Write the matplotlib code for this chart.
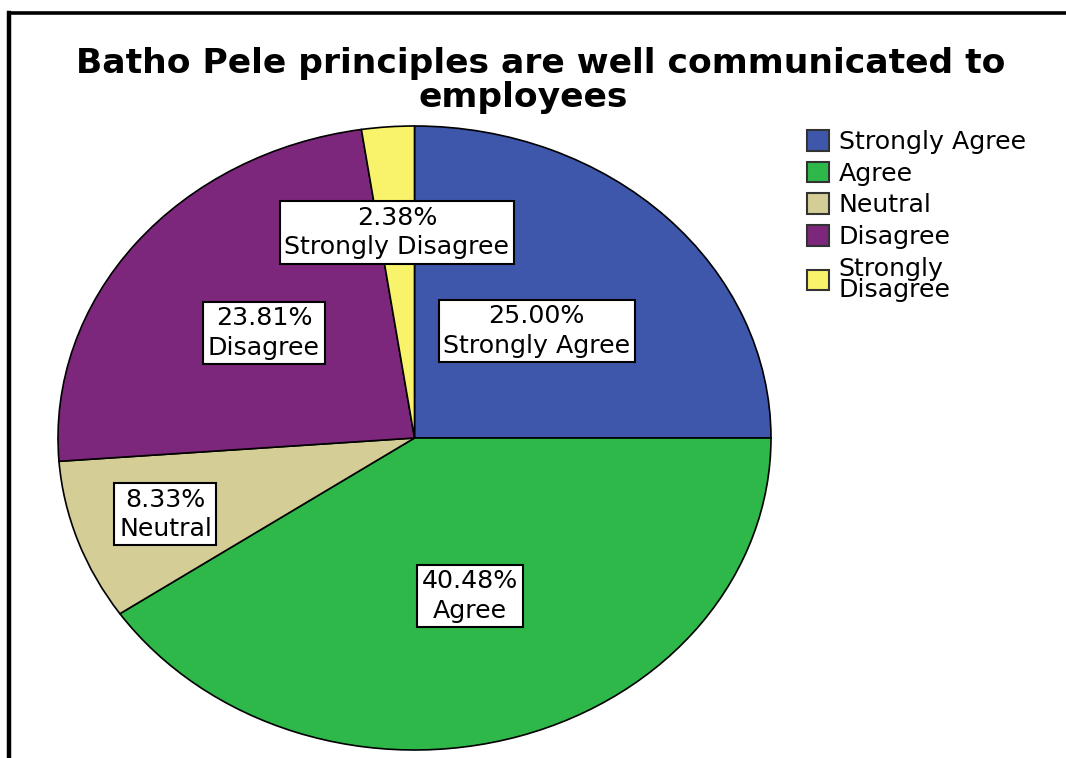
import matplotlib
matplotlib.use("Agg")
import matplotlib.pyplot as plt
from matplotlib.lines import Line2D
import numpy as np

# Survey responses (percent of 84 respondents)
categories = ["Strongly Agree", "Agree", "Neutral", "Disagree", "Strongly Disagree"]
percentages = [25.00, 40.48, 8.33, 23.81, 2.38]
legend_labels = ["Strongly Agree", "Agree", "Neutral", "Disagree", "Strongly\nDisagree"]
colors = ["#3e57ab", "#2fb84a", "#d5cd96", "#7c277b", "#f8f36b"]
label_radius = [0.485, 0.53, 0.74, 0.54, 0.66]
title_lines = ["Batho Pele principles are well communicated to", "employees"]

W, H = 1066, 758
fig = plt.figure(figsize=(W / 100, H / 100), dpi=100)
fig.patch.set_facecolor("white")

FONT = "DejaVu Sans"

# pie occupies an oval region
px_left, px_right, px_top, px_bottom = 58, 771, 126, 750
ax = fig.add_axes([px_left / W, 1 - px_bottom / H,
                   (px_right - px_left) / W, (px_bottom - px_top) / H])
wedges, _ = ax.pie(percentages, colors=colors, startangle=90, counterclock=False,
                   radius=1.0, center=(0, 0),
                   wedgeprops=dict(edgecolor="black", linewidth=1.2))
ax.set_aspect("auto")
ax.set_xlim(-1, 1)
ax.set_ylim(-1, 1)
ax.axis("off")

for w, cat, pct, r in zip(wedges, categories, percentages, label_radius):
    mid = np.deg2rad((w.theta1 + w.theta2) / 2)
    ax.text(r * np.cos(mid), r * np.sin(mid), f"{pct:.2f}%\n{cat}",
            ha="center", va="center", multialignment="center",
            fontsize=18.2, family=FONT, linespacing=1.28,
            bbox=dict(boxstyle="square,pad=0.18", facecolor="white",
                      edgecolor="black", linewidth=1.5))

fig.text(541 / W, 1 - 63 / H, title_lines[0], ha="center", va="center",
         fontsize=24.8, fontweight="bold", family=FONT)
fig.text(523 / W, 1 - 97 / H, title_lines[1], ha="center", va="center",
         fontsize=24.8, fontweight="bold", family=FONT)

leg = fig.legend(wedges, legend_labels, loc="upper left",
                 bbox_to_anchor=(807 / W, 1 - 130 / H), frameon=False,
                 prop=dict(family=FONT, size=18.2),
                 handlelength=0.88, handleheight=0.88, handletextpad=0.38,
                 labelspacing=0.3, borderpad=0.0, borderaxespad=0.0)
for h in leg.legend_handles:
    h.set_edgecolor("#333333")
    h.set_linewidth(1.5)
leg.get_texts()[-1].set_linespacing(0.86)

# frame lines along the left and top edges
fig.add_artist(Line2D([9 / W, 9 / W], [0, 1 - 13 / H], color="black", linewidth=3.2,
                      transform=fig.transFigure, solid_capstyle="projecting"))
fig.add_artist(Line2D([9 / W, 1], [1 - 13 / H, 1 - 13 / H], color="black", linewidth=2.6,
                      transform=fig.transFigure, solid_capstyle="projecting"))

fig.savefig("out.png", dpi=100, facecolor="white")
